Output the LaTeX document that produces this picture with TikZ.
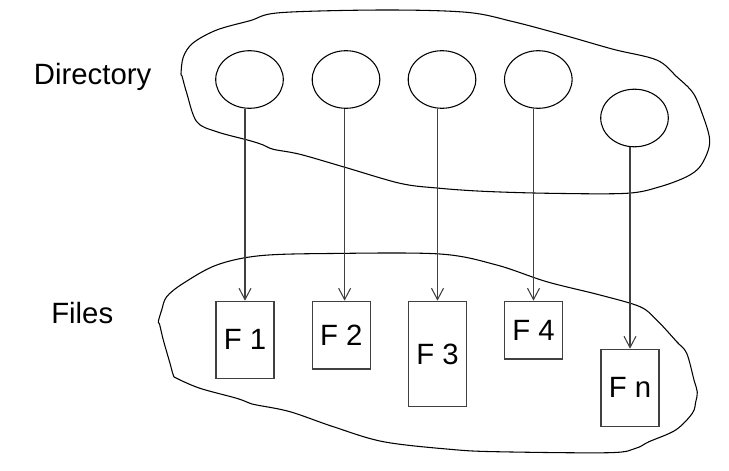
\documentclass[tikz,border=0pt]{standalone}
\usepackage{fontspec}
\setmainfont{Liberation Sans}
\usepackage{tikz}
\usetikzlibrary{positioning, arrows.meta, shapes.geometric, calc}

\begin{document}
\begin{tikzpicture}[x=0.75pt, y=-0.75pt,
    entry/.style={ellipse, draw, line width=0.8pt, minimum width=50.7pt, minimum height=43.2pt, inner sep=0pt},
    filebox/.style={rectangle, draw=black!75, line width=0.9pt, minimum width=43.5pt, inner sep=0pt, anchor=north, font=\fontsize{22}{26}\selectfont},
    ptr/.style={-{Straight Barb[length=8.5pt, width=9pt]}, draw=black!75, line width=0.8pt},
    caption/.style={inner sep=0pt, anchor=base west, font=\fontsize{22}{26}\selectfont}]
    \useasboundingbox (0,0) rectangle (729,471);

    % Outlines
    \draw[line width=0.8pt] plot[smooth cycle, tension=0.55] coordinates {
        (181,74) (183.3,57) (193,43) (216.7,30) (250,20.7) (280,12.7) (383,10)
        (466.7,12.3) (513.3,21.7) (563.3,35) (613.3,49.3) (656.7,60) (676.7,76.7)
        (693.3,93.3) (703.3,116.7) (709.3,136.7) (708.3,150) (700,166.7) (686.7,176.7)
        (660,186.7) (626.7,193.3) (550,193.3) (483.3,191.3) (436.7,188) (400,183.3)
        (345,167.3) (300,154.3) (273.3,149.3) (263.3,145) (250,140.7) (216.7,131.7)
        (196.7,121.7) (186.7,93) (182,76)};
    \draw[line width=0.8pt] plot[smooth cycle, tension=0.55] coordinates {
        (158.3,321.7) (161.7,310) (166.7,296.7) (183.3,283.3) (216.7,265) (260,255.7)
        (330,253.5) (440,254) (496.7,265) (546.7,281.7) (600,295) (640,306.7)
        (656.7,320) (676.7,341.7) (686.7,353.3) (694,380) (697.3,392) (695.7,402)
        (692.3,413.3) (675.7,430) (649,441.7) (635.7,448.3) (609,452.7) (495.7,451.7)
        (450,449.3) (383.3,441.7) (333.3,426.7) (290,411.7) (256.7,405) (250,403.3)
        (236.7,398.3) (200,388.3) (176.7,378.3) (173.3,375) (170,363.3) (163.3,340)
        (159.5,324)};

    % Labels
    \node[caption] (dir) at (33.7,84.3) {Directory};
    \node[caption] (files) at (51,323.3) {Files};

    % Directory entries
    \node[entry] (E1) at (249.5,79.5) {};
    \node[entry] (E2) at (346,79.5) {};
    \node[entry] (E3) at (442,79.5) {};
    \node[entry] (E4) at (538.3,79.5) {};
    \node[entry] (E5) at (634.5,118) {};

    % Files
    \node[filebox, minimum height=57.75pt] (F1) at (245,300.7) {F 1};
    \node[filebox, minimum height=50.7pt] (F2) at (341.3,300.7) {F 2};
    \node[filebox, minimum height=79pt] (F3) at (437.5,300.7) {F 3};
    \node[filebox, minimum height=43.2pt] (F4) at (533.5,300.7) {F 4};
    \node[filebox, minimum height=57.75pt] (Fn) at (630,348.7) {F n};

    % Arrows
    \draw[ptr] (E1.south -| F1.north) -- (F1.north);
    \draw[ptr] ([xshift=2.5pt]E2.south -| F2.north) -- ([xshift=2.5pt]F2.north);
    \draw[ptr] (E3.south -| F3.north) -- (F3.north);
    \draw[ptr] (E4.south -| F4.north) -- (F4.north);
    \draw[ptr] (E5.south -| Fn.north) -- (Fn.north);
\end{tikzpicture}
\end{document}
